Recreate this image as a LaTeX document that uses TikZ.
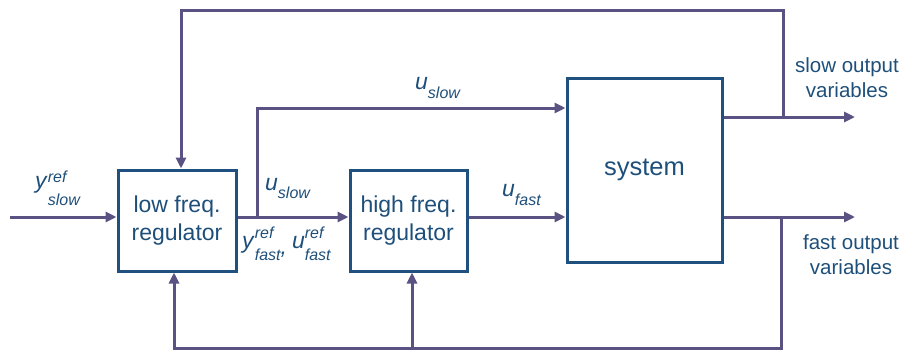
\documentclass[tikz,border=0pt]{standalone}
\usepackage{fontspec}
\setmainfont{Liberation Sans}
\usetikzlibrary{arrows.meta}
\definecolor{linec}{HTML}{5A5282}
\definecolor{boxc}{HTML}{1F5080}
\definecolor{txtc}{HTML}{1E4F7A}
\newcommand{\scrf}{\fontsize{16}{16}\selectfont\itshape}
% main letter, subscript (raise)
\newcommand{\symsub}[3]{\textit{#1}\raisebox{#3}{\scrf #2}}
% main letter, superscript (raise), subscript (raise)
\newcommand{\symboth}[5]{\textit{#1}\makebox[0pt][l]{\raisebox{#3}{\scrf #2}}\raisebox{#5}{\scrf #4}}
\begin{document}
\begin{tikzpicture}[x=1pt,y=-1pt,
  blk/.style={draw=boxc,line width=3pt,rectangle,inner sep=0pt,text=txtc,align=center,font=\fontsize{23}{28}\selectfont},
  conn/.style={draw=linec,line width=3pt},
  arr/.style={conn,-{Triangle[length=11pt,width=10pt]}},
  lbl/.style={text=txtc,inner sep=0pt,font=\fontsize{23}{28}\selectfont},
  outl/.style={text=txtc,inner sep=0pt,align=center,font=\fontsize{20.5}{25}\selectfont}]
\useasboundingbox (0,0) rectangle (905,351);
\node[blk,minimum width=118pt,minimum height=101pt] (low) at (177,220.5) {low freq.\\regulator};
\node[blk,minimum width=117pt,minimum height=101pt] (high) at (408.5,220.5) {high freq.\\regulator};
\node[blk,minimum width=155pt,minimum height=184pt,font=\fontsize{25.5}{30}\selectfont] (sys) at (644.5,170) {system};
% coordinates
\coordinate (in) at (10,217);
\coordinate (b1) at (257,217);
\coordinate (us) at (257,108);
\coordinate (so) at (855,117);
\coordinate (fo) at (855,217);
\coordinate (s1) at (783,117);
\coordinate (s2) at (783,10);
\coordinate (s3) at (181,10);
\coordinate (f1) at (781,217);
\coordinate (f2) at (781,348);
\coordinate (f3) at (174,348);
\coordinate (f4) at (412,348);
% connectors
\draw[arr] (in) -- (low.west |- in);
\draw[arr] (low.east |- in) -- (high.west |- in);
\draw[arr] (b1) -- (us) -- (sys.west |- us);
\draw[arr] (high.east |- in) -- (sys.west |- in);
\draw[arr] (sys.east |- so) -- (so);
\draw[arr] (sys.east |- fo) -- (fo);
\draw[arr,line join=miter] (s1) -- (s2) -- (s3) -- (low.north -| s3);
\draw[arr,line join=miter] (f1) -- (f2) -- (f3) -- (low.south -| f3);
\draw[arr] (f4) -- (high.south -| f4);
% labels
\node[lbl,anchor=base west] (lys) at (35,188) {\symboth{y}{ref}{6pt}{slow}{-17pt}};
\node[lbl,anchor=base west] (lus1) at (265,190) {\symsub{u}{slow}{-8pt}};
\node[lbl,anchor=base west] (lus2) at (415,89) {\symsub{u}{slow}{-9pt}};
\node[lbl,anchor=base west] (luf) at (502,196) {\symsub{u}{fast}{-9pt}};
\node[lbl,anchor=base west] (lyf) at (242,248) {\symboth{y}{ref}{10pt}{fast}{-12pt}\raisebox{-6pt}{\textit{,}}\hspace{5pt}\symboth{u}{ref}{10pt}{fast}{-12pt}};
\node[outl] (lso) at (847,78) {slow output\\variables};
\node[outl] (lfo) at (851,255) {fast output\\variables};
\end{tikzpicture}
\end{document}
